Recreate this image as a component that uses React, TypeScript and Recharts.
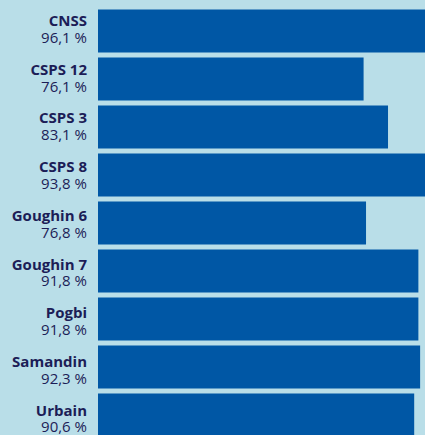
import React from "react";
import { BarChart, Bar, XAxis, YAxis } from "recharts";

const categories = ["CNSS", "CSPS 12", "CSPS 3", "CSPS 8", "Goughin 6", "Goughin 7", "Pogbi", "Samandin", "Urbain"];
const values = [96.1, 76.1, 83.1, 93.8, 76.8, 91.8, 91.8, 92.3, 90.6];

const data = categories.map((name, i) => ({ name, value: values[i] }));
const fmt = (v: number) => v.toFixed(1).replace(".", ",") + "\u00A0%";

const NAVY = "#1c1d57";
const BAR = "#0057a5";
const BG = "#b9dee8";

const Tick = (props: any) => {
  const { y, payload } = props;
  const idx = props.index ?? categories.indexOf(payload.value);
  const v = values[idx];
  const base = y - 4.5 + 0.7 * idx;
  return (
    <g>
      <text x={87} y={base} textAnchor="end" fill={NAVY} fontSize={15} fontWeight={700} fontFamily="'Open Sans', sans-serif">
        {payload.value}
      </text>
      <text x={87} y={base + 16.8} textAnchor="end" fill={NAVY} fontSize={15} fontWeight={400} fontFamily="'Open Sans', sans-serif">
        {fmt(v)}
      </text>
    </g>
  );
};

export default function App() {
  return (
    <div style={{ position: "fixed", left: 0, top: 0, width: 425, height: 435, overflow: "hidden", background: BG }}>
      <BarChart
        width={447}
        height={441}
        data={data}
        layout="vertical"
        margin={{ top: 6.5, right: 0, bottom: 2.5, left: 0 }}
      >
        <XAxis type="number" domain={[0, 100]} hide />
        <YAxis type="category" dataKey="name" width={98} axisLine={false} tickLine={false} tick={<Tick />} interval={0} />
        <Bar dataKey="value" fill={BAR} barSize={43} isAnimationActive={false} />
      </BarChart>
    </div>
  );
}
